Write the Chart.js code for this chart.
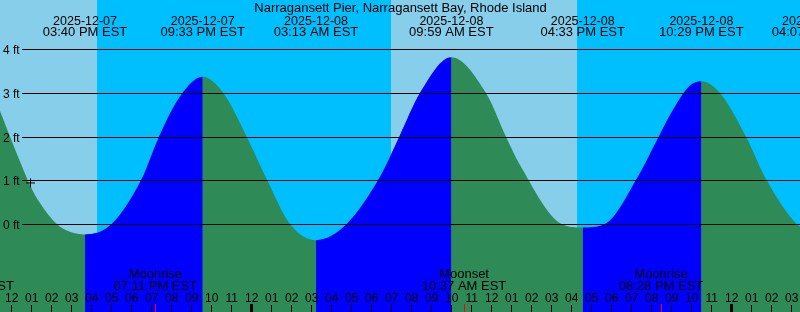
<!DOCTYPE html>
<html>
<head>
<meta charset="utf-8">
<script src="https://cdn.jsdelivr.net/npm/chart.js@4.4.1/dist/chart.umd.min.js"></script>
<style>
html,body{margin:0;padding:0;background:#fff;overflow:hidden}
canvas{display:block}
</style>
</head>
<body>
<canvas id="c" width="800" height="312"></canvas>
<script>
// Time axis: hours after 12:00 PM EST on 2025-12-07
const stationTitle = 'Narragansett Pier, Narragansett Bay, Rhode Island';

// High / low tide events
const tideEventHours = [3.667, 9.55, 15.217, 21.983, 28.55, 34.483, 40.117];
const tideEventFeet  = [-0.24, 3.37, -0.37, 3.82, -0.08, 3.27, -0.20];
const tideEventDates = ['2025-12-07','2025-12-07','2025-12-08','2025-12-08','2025-12-08','2025-12-08','2025-12-09'];
const tideEventTimes = ['03:40 PM EST','09:33 PM EST','03:13 AM EST','09:59 AM EST','04:33 PM EST','10:29 PM EST','04:07 AM EST'];

// Water level readings between the extremes (hours, feet)
const curveHours = [-2.6, -1.085, -0.585, -0.085, 0.415, 0.915, 1.415, 2.25, 2.915,
  5.0, 6.465, 7.365, 8.415,
  10.58, 11.75, 12.78, 13.915,
  16.75, 18.415, 19.38, 20.415,
  23.715, 24.715, 25.415, 27.5,
  29.665, 31.31, 32.15, 33.06, 33.915,
  35.415, 36.715, 37.75, 39.25];
const curveFeet = [3.60, 3.13, 2.59, 2.00, 1.43, 0.89, 0.48, 0.00, -0.18,
  0.00, 1.00, 2.00, 2.92,
  3.00, 2.00, 1.00, 0.00,
  0.00, 1.08, 2.00, 3.00,
  3.00, 2.00, 1.35, 0.00,
  0.00, 1.08, 1.82, 2.61, 3.17,
  3.00, 2.00, 1.00, 0.00];

// Daylight intervals
const dayStartHours = [-5.05, 18.967];
const dayEndHours   = [4.267, 28.267];

// Moon events
const moonEventHours = [-2.0, 7.183, 22.617, 32.467];
const moonEventNames = ['Moonset', 'Moonrise', 'Moonset', 'Moonrise'];
const moonEventTimes = ['10:00 AM EST', '07:11 PM EST', '10:37 AM EST', '08:28 PM EST'];

// Hour ticks (one per hour from 12 PM Dec 7)
const hourLabels = ['12','01','02','03','04','05','06','07','08','09','10','11',
  '12','01','02','03','04','05','06','07','08','09','10','11',
  '12','01','02','03','04','05','06','07','08','09','10','11',
  '12','01','02','03'];
const midnightHours = [12, 36];

// Height grid
const feetTicks  = [0, 1, 2, 3, 4];
const feetLabels = ['0 ft', '1 ft', '2 ft', '3 ft', '4 ft'];

// Current time marker
const nowHour = [0.94];
const nowFeet = [0.94];

const DAY = '#87ceeb', NIGHT = '#00bfff', FLOOD = '#0000ff', EBB = '#2e8b57';
const FONT = '"Liberation Sans", Arial, sans-serif';

const points = tideEventHours.map((h, i) => ({x: h, y: tideEventFeet[i]}))
  .concat(curveHours.map((h, i) => ({x: h, y: curveFeet[i]})))
  .sort((a, b) => a.x - b.x);

const decor = {
  id: 'decor',
  beforeDraw(chart) {
    const {ctx, chartArea: a, scales: {x}} = chart;
    ctx.save();
    ctx.fillStyle = NIGHT;
    ctx.fillRect(a.left, a.top, a.width, a.height);
    ctx.fillStyle = DAY;
    for (let i = 0; i < dayStartHours.length; i++) {
      const x0 = Math.round(Math.max(a.left, x.getPixelForValue(dayStartHours[i])));
      const x1 = Math.round(Math.min(a.right, x.getPixelForValue(dayEndHours[i])));
      if (x1 > x0) ctx.fillRect(x0, a.top, x1 - x0, a.height);
    }
    ctx.restore();
  },
  afterDatasetsDraw(chart) {
    const {ctx, chartArea: a, scales: {x, y}} = chart;
    ctx.save();
    ctx.fillStyle = '#000';
    // grid lines + ft labels
    ctx.font = '12px ' + FONT;
    ctx.textAlign = 'left';
    ctx.textBaseline = 'alphabetic';
    feetTicks.forEach((v, i) => {
      const row = Math.round(y.getPixelForValue(v));
      ctx.fillRect(22, row, a.right - 22, 1);
      ctx.fillText(feetLabels[i], 3, row + 5);
    });
    // title
    ctx.textAlign = 'center';
    ctx.font = '13px ' + FONT;
    ctx.fillText(stationTitle, 400.5, 12);
    // tide event labels
    tideEventHours.forEach((h, i) => {
      const px = x.getPixelForValue(h);
      ctx.font = '12.5px ' + FONT;
      ctx.fillText(tideEventDates[i], px, 25);
      ctx.font = '13px ' + FONT;
      ctx.fillText(tideEventTimes[i], px, 36);
    });
    // moon labels
    ctx.font = '13px ' + FONT;
    moonEventHours.forEach((h, i) => {
      const px = x.getPixelForValue(h);
      ctx.fillText(moonEventNames[i], px, 278);
      ctx.fillText(moonEventTimes[i], px, 290);
    });
    // hour ticks + labels
    ctx.font = '12px ' + FONT;
    hourLabels.forEach((lab, h) => {
      const px = x.getPixelForValue(h);
      const col = Math.floor(px);
      if (midnightHours.includes(h)) ctx.fillRect(col - 1, 304, 3, 8);
      else ctx.fillRect(col, 305, 1, 7);
      ctx.fillText(lab, px, 302);
    });
    ctx.fillStyle = '#ff0000';
    moonEventHours.forEach(h => {
      const col = Math.floor(x.getPixelForValue(h));
      if (col >= 0 && col < a.right) ctx.fillRect(col, 304, 1, 8);
    });
    ctx.restore();
  }
};

new Chart(document.getElementById('c'), {
  type: 'line',
  data: {
    datasets: [{
      // whole water body (ebb colour)
      data: points,
      borderColor: 'transparent',
      borderWidth: 0,
      pointRadius: 0,
      cubicInterpolationMode: 'monotone',
      fill: 'start',
      backgroundColor: EBB,
      order: 3
    }, {
      // rising (flood) stretches on top
      data: points,
      borderColor: 'transparent',
      borderWidth: 0,
      pointRadius: 0,
      cubicInterpolationMode: 'monotone',
      fill: 'start',
      backgroundColor: 'rgba(0,0,0,0)',
      segment: {
        backgroundColor: c => c.p1.parsed.y > c.p0.parsed.y ? FLOOD : 'rgba(0,0,0,0)'
      },
      order: 2
    }, {
      data: nowHour.map((h, i) => ({x: h, y: nowFeet[i]})),
      showLine: false,
      fill: false,
      pointStyle: 'cross',
      pointRadius: 4.5,
      borderColor: '#000',
      borderWidth: 1,
      order: 1
    }]
  },
  options: {
    responsive: false,
    animation: false,
    devicePixelRatio: 1,
    events: [],
    layout: {padding: 0, autoPadding: false},
    plugins: {legend: {display: false}, tooltip: {enabled: false}, title: {display: false}},
    scales: {
      x: {type: 'linear', min: -0.585, max: 39.415, display: false},
      y: {type: 'linear', min: -2.0151, max: 5.1294, display: false}
    }
  },
  plugins: [decor]
});
</script>
</body>
</html>
